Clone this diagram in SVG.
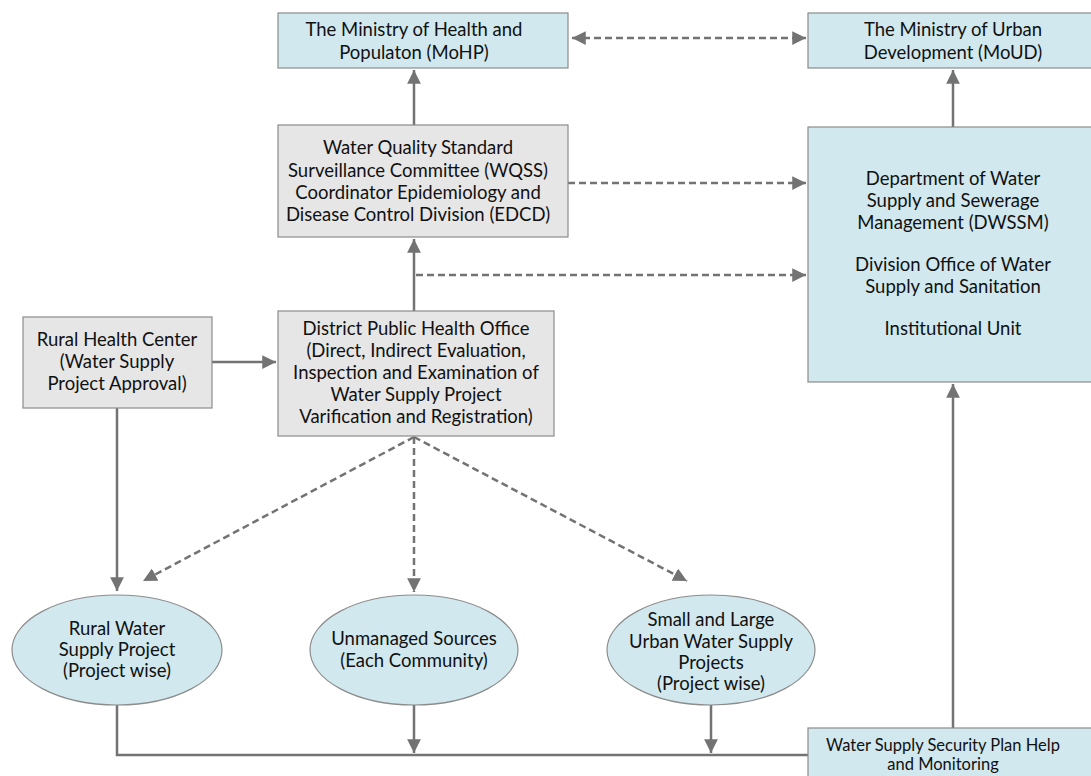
<svg xmlns="http://www.w3.org/2000/svg" width="1091" height="776" viewBox="0 0 1091 776">
<style>
.blue{fill:#d0e8ee;stroke:#8c8c8c;stroke-width:1.2}
.gray{fill:#e6e6e6;stroke:#8c8c8c;stroke-width:1.2}
.t{font-family:Lato,"Open Sans",sans-serif;font-size:18.5px;fill:#111;text-anchor:middle;dominant-baseline:central}
.sm{font-size:16.5px}
.s{stroke:#737373;stroke-width:2.5;fill:none}
.d{stroke:#737373;stroke-width:2.5;fill:none;stroke-dasharray:7 4}
</style>
<defs>
<marker id="ah" viewBox="0 0 10 10" refX="10" refY="5" markerWidth="5.5" markerHeight="5.5" orient="auto-start-reverse" markerUnits="strokeWidth">
<path d="M0,0 L10,5 L0,10 z" fill="#737373"/>
</marker>
</defs>
<g id="connectors">
<line class="s" x1="414" y1="125" x2="414" y2="70" marker-end="url(#ah)"/>
<line class="s" x1="953" y1="127" x2="953" y2="70" marker-end="url(#ah)"/>
<line class="d" x1="572" y1="38" x2="806" y2="38" marker-start="url(#ah)" marker-end="url(#ah)"/>
<line class="d" x1="568" y1="183" x2="806" y2="183" marker-end="url(#ah)"/>
<line class="s" x1="414" y1="311" x2="414" y2="239" marker-end="url(#ah)"/>
<line class="d" x1="416" y1="275" x2="806" y2="275" marker-end="url(#ah)"/>
<line class="s" x1="212" y1="362" x2="276" y2="362" marker-end="url(#ah)"/>
<line class="s" x1="117" y1="408" x2="117" y2="591" marker-end="url(#ah)"/>
<line class="d" x1="414" y1="437" x2="143" y2="581" marker-end="url(#ah)"/>
<line class="d" x1="414" y1="437" x2="414" y2="592" marker-end="url(#ah)"/>
<line class="d" x1="414" y1="437" x2="687" y2="581" marker-end="url(#ah)"/>
<polyline class="s" points="117,705 117,755 808,755"/>
<line class="s" x1="414" y1="705" x2="414" y2="753" marker-end="url(#ah)"/>
<line class="s" x1="711" y1="705" x2="711" y2="753" marker-end="url(#ah)"/>
<line class="s" x1="953" y1="728" x2="953" y2="384" marker-end="url(#ah)"/>
</g>
<g id="mohp">
<rect class="blue" x="278" y="13" width="290" height="55"/>
<text class="t" x="414" y="29">The Ministry of Health and</text>
<text class="t" x="414" y="52">Populaton (MoHP)</text>
</g>
<g id="moud">
<rect class="blue" x="808" y="13" width="290" height="55"/>
<text class="t" x="953" y="29">The Ministry of Urban</text>
<text class="t" x="953" y="52">Development (MoUD)</text>
</g>
<g id="wqss">
<rect class="gray" x="278" y="125" width="290" height="112"/>
<text class="t" x="418" y="147">Water Quality Standard</text>
<text class="t" x="418" y="170">Surveillance Committee (WQSS)</text>
<text class="t" x="418" y="192">Coordinator Epidemiology and</text>
<text class="t" x="418" y="214">Disease Control Division (EDCD)</text>
</g>
<g id="dwssm">
<rect class="blue" x="808" y="127" width="290" height="255"/>
<text class="t" x="953" y="178">Department of Water</text>
<text class="t" x="953" y="200">Supply and Sewerage</text>
<text class="t" x="953" y="222">Management (DWSSM)</text>
<text class="t" x="953" y="264">Division Office of Water</text>
<text class="t" x="953" y="286">Supply and Sanitation</text>
<text class="t" x="953" y="328">Institutional Unit</text>
</g>
<g id="rhc">
<rect class="gray" x="23" y="317" width="189" height="91"/>
<text class="t" x="117" y="339">Rural Health Center</text>
<text class="t" x="117" y="361">(Water Supply</text>
<text class="t" x="117" y="383">Project Approval)</text>
</g>
<g id="dpho">
<rect class="gray" x="278" y="311" width="276" height="125"/>
<text class="t" x="416" y="328">District Public Health Office</text>
<text class="t" x="416" y="350">(Direct, Indirect Evaluation,</text>
<text class="t" x="416" y="372">Inspection and Examination of</text>
<text class="t" x="416" y="394">Water Supply Project</text>
<text class="t" x="416" y="416">Varification and Registration)</text>
</g>
<g id="rural">
<ellipse class="blue" cx="117" cy="650" rx="105" ry="55"/>
<text class="t" x="117" y="628">Rural Water</text>
<text class="t" x="117" y="649">Supply Project</text>
<text class="t" x="117" y="670">(Project wise)</text>
</g>
<g id="unmanaged">
<ellipse class="blue" cx="414" cy="650" rx="104" ry="55"/>
<text class="t" x="414" y="638">Unmanaged Sources</text>
<text class="t" x="414" y="660">(Each Community)</text>
</g>
<g id="urban">
<ellipse class="blue" cx="711" cy="650" rx="104" ry="55"/>
<text class="t" x="711" y="619">Small and Large</text>
<text class="t" x="711" y="641">Urban Water Supply</text>
<text class="t" x="711" y="662">Projects</text>
<text class="t" x="711" y="683">(Project wise)</text>
</g>
<g id="wssp">
<rect class="blue" x="808" y="728" width="290" height="60"/>
<text class="t sm" x="943" y="745">Water Supply Security Plan Help</text>
<text class="t sm" x="943" y="764">and Monitoring</text>
</g>
</svg>
